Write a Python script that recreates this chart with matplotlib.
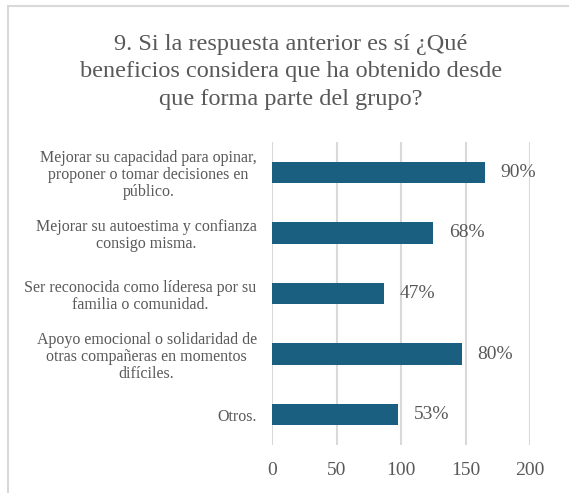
import matplotlib.pyplot as plt
from matplotlib.patches import Rectangle

categories = [
    "Mejorar su capacidad para opinar,\nproponer o tomar decisiones en\npúblico.",
    "Mejorar su autoestima y confianza\nconsigo misma.",
    "Ser reconocida como líderesa por su\nfamilia o comunidad.",
    "Apoyo emocional o solidaridad de\notras compañeras en momentos\ndifíciles.",
    "Otros.",
]
counts = [165, 125, 87, 147, 98]
pct_labels = ["90%", "68%", "47%", "80%", "53%"]
xticks = [0, 50, 100, 150, 200]

title = ("9. Si la respuesta anterior es sí ¿Qué\n"
         "beneficios considera que ha obtenido desde\n"
         "que forma parte del grupo?")

W, H = 569, 493
text_color = "#595959"
bar_color = "#1a5f80"
plt.rcParams["font.family"] = ["Liberation Serif", "DejaVu Serif"]

fig = plt.figure(figsize=(W / 100, H / 100), dpi=100)
# plot area in pixels: x 272..530, y 142..445
ax = fig.add_axes([272 / W, 1 - 445 / H, (530 - 272) / W, (445 - 142) / H])

y = list(range(len(categories)))
ax.barh(y, counts, height=0.35, color=bar_color, zorder=3)
for yi, c, lab in zip(y, counts, pct_labels):
    ax.text(c + 12, yi, lab, va="center", ha="left", fontsize=14,
            color=text_color)

ax.set_xlim(0, 200)
ax.set_ylim(len(categories) - 0.5, -0.5)
ax.set_xticks(xticks)
ax.set_xticklabels([str(t) for t in xticks], fontsize=14, color=text_color)
ax.set_yticks(y)
ax.set_yticklabels(categories, fontsize=11.5, color=text_color)
for lbl in ax.get_yticklabels():
    lbl.set_multialignment("center")
    lbl.set_linespacing(1.1)
ax.tick_params(axis="both", length=0)
ax.tick_params(axis="x", pad=12)
ax.tick_params(axis="y", pad=11)
ax.grid(axis="x", color="#d9d9d9", linewidth=1.5, zorder=0)
for s in ax.spines.values():
    s.set_visible(False)

fig.text(291 / W, 1 - 72 / H, title, ha="center",
         va="center", fontsize=17.5, color=text_color, linespacing=1.4)

fig.patches.append(Rectangle((8 / W, -0.05), 1.1, 1 - 6 / H + 0.05,
                             transform=fig.transFigure, fill=False,
                             edgecolor="#d9d9d9", linewidth=1.5))

fig.savefig("out.png", dpi=100)
